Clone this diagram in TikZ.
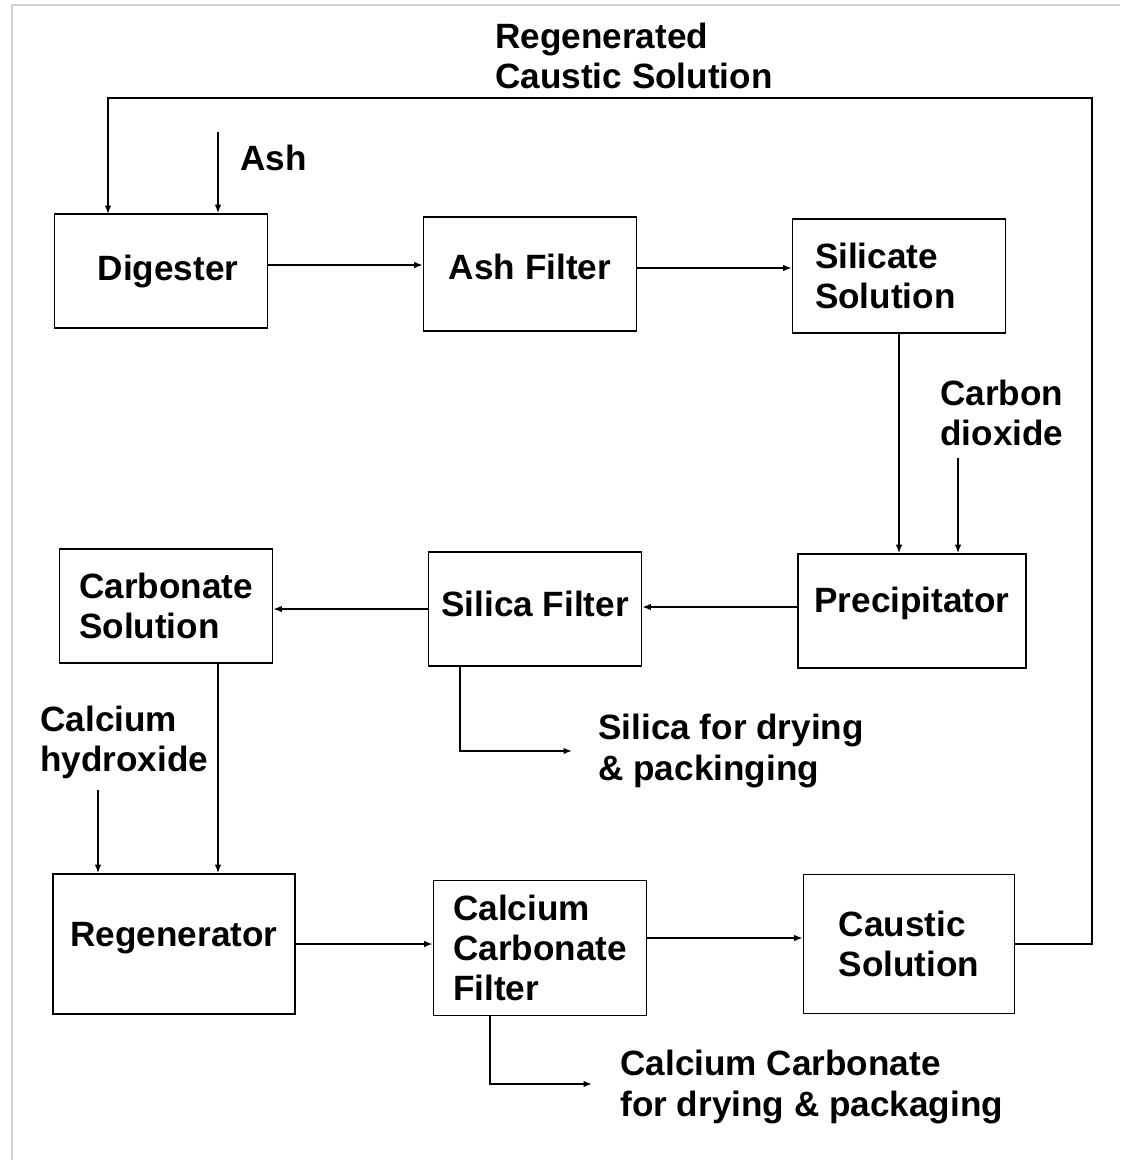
\documentclass[tikz,border=0pt]{standalone}
\usepackage{fontspec}
\setmainfont{Liberation Sans}
\usetikzlibrary{arrows.meta}
\tikzset{
  unit/.style={font=\bfseries\fontsize{20}{22.8}\selectfont, align=left, inner sep=0pt},
  box/.style={unit, draw, line width=0.9pt, minimum width=4.26cm, minimum height=2.28cm},
  flow/.style={line width=0.9pt, -{Latex[length=1.7mm,width=1.3mm]}},
}
\begin{document}
\begin{tikzpicture}[x=0.02cm, y=-0.02cm]
                \useasboundingbox (0,0) rectangle (1120,1160);
                \draw[gray!35, line width=0.8pt] (12,1160) -- (12,5) -- (1120,5);
                % units
                \node[box] (dig) at (161,271) {\hspace*{0.28cm}Digester};
                \node[box] (ashf) at (530,274) {\raisebox{0.28cm}{Ash Filter}};
                \node[box, text width=3.36cm, inner xsep=0.44cm] (sil) at (899,276) {Silicate\\Solution};
                \node[box, minimum width=4.56cm] (prec) at (912,611) {\raisebox{0.44cm}{Precipitator}};
                \node[box] (silf) at (535,609) {\raisebox{0.2cm}{Silica Filter}};
                \node[box] (carb) at (166,606) {Carbonate\\Solution};
                \node[box, minimum width=4.84cm, minimum height=2.8cm] (regen) at (174,944) {\raisebox{0.4cm}{Regenerator}};
                \node[box, minimum height=2.7cm] (ccf) at (540,948) {Calcium\\Carbonate\\Filter};
                \node[box, minimum width=4.22cm, minimum height=2.78cm] (caus) at (909,944) {Caustic\\Solution};
                % streams
                \node[unit, anchor=west] (regenlbl) at (495,56) {Regenerated\\Caustic Solution};
                \node[unit, anchor=west] (ashlbl) at (240,158) {Ash};
                \node[unit, anchor=west] (co2lbl) at (940,413) {Carbon\\dioxide};
                \node[unit, anchor=west] (caohlbl) at (40,742) {Calcium\\hydroxide};
                \node[unit, anchor=west] (silicalbl) at (598,751) {Silica for drying\\\& packinging};
                \node[unit, anchor=west] (caco3lbl) at (620,1087) {Calcium Carbonate\\for drying \& packaging};
                \coordinate (ashin) at (218,132);
                \coordinate (co2in) at (958,458);
                \coordinate (caohin) at (98,790);
                \coordinate (loop) at (1092,98);
                \coordinate (silout) at (572,751);
                \coordinate (caco3out) at (592,1084);
                \coordinate (digin) at (108,214);
                \coordinate (carbout) at (218,663);
                % connectors
                \draw[flow] (ashin) -- (ashin |- dig.north);
                \draw[flow] ([yshift=0.12cm]dig.east) -- ([yshift=0.12cm]dig.east -| ashf.west);
                \draw[flow] ([yshift=0.12cm]ashf.east) -- ([yshift=0.12cm]ashf.east -| sil.west);
                \draw[flow] (sil.south) -- (sil.south |- prec.north);
                \draw[flow] (co2in) -- (co2in |- prec.north);
                \draw[flow] ([yshift=0.08cm]prec.west) -- ([yshift=0.08cm]prec.west -| silf.east);
                \draw[flow] (silf.west) -- (silf.west -| carb.east);
                \draw[flow] ([xshift=0.64cm]silf.south west) |- (silout);
                \draw[flow] (carbout) -- (carbout |- regen.north);
                \draw[flow] (caohin) -- (caohin |- regen.north);
                \draw[flow] (regen.east) -- (regen.east -| ccf.west);
                \draw[flow] ([yshift=0.2cm]ccf.east) -- ([yshift=0.2cm]ccf.east -| caus.west);
                \draw[flow] ([xshift=1.14cm]ccf.south west) |- (caco3out);
                \draw[flow] (caus.east) -| (loop) -| (digin);
            \end{tikzpicture}
\end{document}
